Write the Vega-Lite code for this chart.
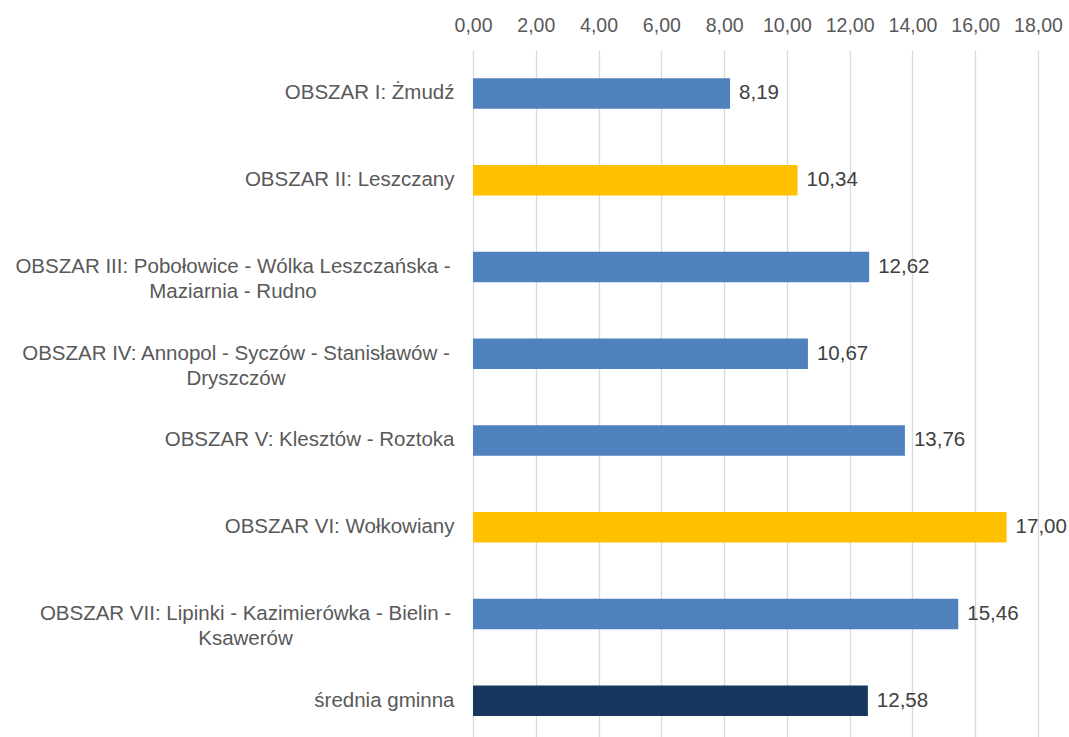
{
  "$schema": "https://vega.github.io/schema/vega-lite/v6.json",
  "width": 565,
  "height": 687,
  "autosize": {"type": "none"},
  "padding": {"left": 473, "top": 50, "right": 31, "bottom": 0},
  "config": {
    "locale": {"number": {"decimal": ",", "thousands": " ", "grouping": [3], "currency": ["", " zł"]}},
    "view": {"stroke": null},
    "font": "Liberation Sans"
  },
  "data": {
    "values": [
      {"obszar": "OBSZAR I: Żmudź", "wartosc": 8.19, "typ": "obszar"},
      {"obszar": "OBSZAR II: Leszczany", "wartosc": 10.34, "typ": "wyróżniony"},
      {"obszar": "OBSZAR III: Pobołowice - Wólka Leszczańska -\nMaziarnia - Rudno", "wartosc": 12.62, "typ": "obszar"},
      {"obszar": "OBSZAR IV: Annopol - Syczów - Stanisławów -\nDryszczów", "wartosc": 10.67, "typ": "obszar"},
      {"obszar": "OBSZAR V: Klesztów - Roztoka", "wartosc": 13.76, "typ": "obszar"},
      {"obszar": "OBSZAR VI: Wołkowiany", "wartosc": 17.0, "typ": "wyróżniony"},
      {"obszar": "OBSZAR VII: Lipinki - Kazimierówka - Bielin -\nKsawerów", "wartosc": 15.46, "typ": "obszar"},
      {"obszar": "średnia gminna", "wartosc": 12.58, "typ": "średnia"}
    ]
  },
  "encoding": {
    "y": {
      "field": "obszar",
      "type": "nominal",
      "sort": null,
      "scale": {"range": [0, 694]},
      "axis": {
        "title": null,
        "domain": false,
        "ticks": false,
        "labelFontSize": 20.5,
        "labelColor": "#595959",
        "labelLimit": 0,
        "labelLineHeight": 25,
        "labelOverlap": false,
        "labelExpr": "split(datum.label, '\\n')",
        "labelAlign": {"condition": {"test": "indexof(datum.value, '\\n') >= 0", "value": "center"}, "value": "right"},
        "labelPadding": {
          "condition": [
            {"test": "indexof(datum.value, 'OBSZAR III') == 0", "value": 240.5},
            {"test": "indexof(datum.value, 'OBSZAR IV') == 0", "value": 237.5},
            {"test": "indexof(datum.value, 'OBSZAR VII') == 0", "value": 228}
          ],
          "value": 19
        }
      }
    },
    "x": {
      "field": "wartosc",
      "type": "quantitative",
      "scale": {"domain": [0, 18], "nice": false},
      "axis": {
        "orient": "top",
        "title": null,
        "values": [0, 2, 4, 6, 8, 10, 12, 14, 16, 18],
        "format": ".2f",
        "domain": false,
        "ticks": false,
        "grid": true,
        "gridColor": "#d9d9d9",
        "gridWidth": 1.3,
        "labelFontSize": 19.5,
        "labelColor": "#595959",
        "labelOverlap": false,
        "labelFlush": false,
        "labelPadding": 15
      }
    }
  },
  "layer": [
    {
      "mark": {"type": "bar", "size": 30.5},
      "encoding": {
        "color": {
          "field": "typ",
          "type": "nominal",
          "scale": {"domain": ["obszar", "wyróżniony", "średnia"], "range": ["#4F81BD", "#FFC000", "#17375E"]},
          "legend": null
        }
      }
    },
    {
      "mark": {"type": "text", "align": "left", "baseline": "middle", "dx": 9, "fontSize": 20.5, "color": "#404040"},
      "encoding": {
        "text": {"field": "wartosc", "type": "quantitative", "format": ".2f"}
      }
    }
  ]
}
